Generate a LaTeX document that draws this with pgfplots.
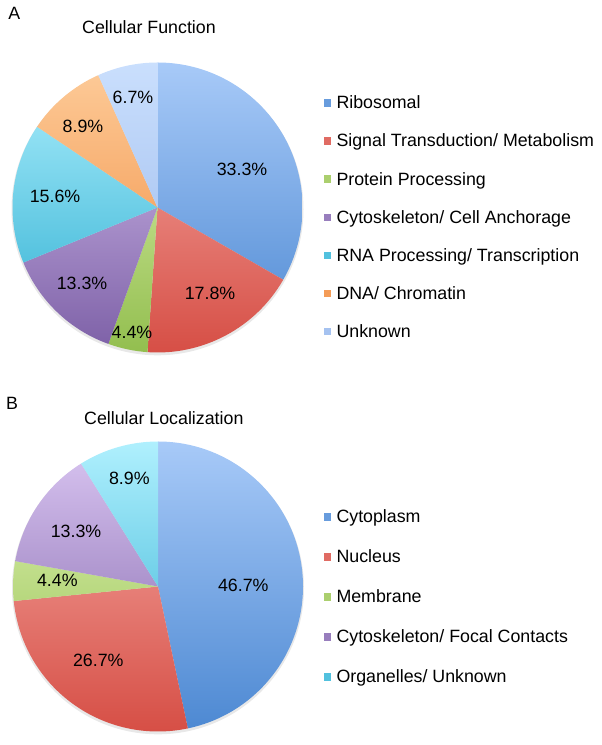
\documentclass[border=0pt]{standalone}
\usepackage{fontspec}
\setmainfont{Liberation Sans}
\usepackage{pgfplots}
\usepackage{pgfplotstable}
\pgfplotsset{compat=1.18}

\definecolor{blT}{HTML}{A8CAF8}
\definecolor{blB}{HTML}{4C88D2}
\definecolor{rdT}{HTML}{F7B0AA}
\definecolor{rdB}{HTML}{D64E45}
\definecolor{grT}{HTML}{E4F6B8}
\definecolor{grB}{HTML}{92BE4E}
\definecolor{puT}{HTML}{DAC6F2}
\definecolor{puB}{HTML}{7C5FA6}
\definecolor{cyT}{HTML}{B0F0FE}
\definecolor{cyB}{HTML}{2AADD0}
\definecolor{orT}{HTML}{FDCC9A}
\definecolor{orB}{HTML}{F0883A}
\definecolor{lbT}{HTML}{CADFFD}
\definecolor{lbB}{HTML}{96B6EA}

\newcommand\txtfont{\fontsize{17.8bp}{21bp}\selectfont}

% percentages, colours, label offsets from the pie centre, legend names and baselines
\pgfplotstableread[col sep=comma]{
pct,top,bot,lx,ly,name,gy
33.3,blT,blB,84.5,38.5,Ribosomal,636.1
17.8,rdT,rdB,52.5,-85.5,Signal Transduction/ Metabolism,598.0
4.4,grT,grB,-25.5,-124.5,Protein Processing,559.9
13.3,puT,puB,-75.5,-75.5,Cytoskeleton/ Cell Anchorage,521.8
15.6,cyT,cyB,-102.5,11.5,RNA Processing/ Transcription,483.7
8.9,orT,orB,-74.5,81.5,DNA/ Chromatin,445.6
6.7,lbT,lbB,-24.5,110.5,Unknown,407.5
}\funcdata

\pgfplotstableread[col sep=comma]{
pct,top,bot,lx,ly,name,gy
46.7,blT,blB,85.3,0.8,Cytoplasm,222.1
26.7,rdT,rdB,-59.7,-74.2,Nucleus,182.1
4.4,grT,grB,-100.7,5.8,Membrane,142.1
13.3,puT,puB,-82,55.5,Cytoskeleton/ Focal Contacts,102.1
8.9,cyT,cyB,-28.7,108.2,Organelles/ Unknown,62.1
}\locdata

\def\R{145bp}

\newcommand\drawpie[3]{%
  \fill[black!9] (axis cs:#2,#3) ++(0,-1.8bp) circle[radius=146bp];
  \pgfplotstablegetrowsof{#1}%
  \pgfmathtruncatemacro\nrows{\pgfplotsretval-1}%
  \gdef\cum{0}%
  \foreach \i in {0,...,\nrows}{%
    \pgfplotstablegetelem{\i}{pct}\of{#1}\let\p\pgfplotsretval
    \pgfplotstablegetelem{\i}{top}\of{#1}\let\ct\pgfplotsretval
    \pgfplotstablegetelem{\i}{bot}\of{#1}\let\cb\pgfplotsretval
    \pgfplotstablegetelem{\i}{lx}\of{#1}\let\lx\pgfplotsretval
    \pgfplotstablegetelem{\i}{ly}\of{#1}\let\ly\pgfplotsretval
    \pgfplotstablegetelem{\i}{name}\of{#1}\let\nm\pgfplotsretval
    \pgfplotstablegetelem{\i}{gy}\of{#1}\let\gy\pgfplotsretval
    \pgfmathsetmacro\aS{90-3.6*\cum}%
    \pgfmathsetmacro\aE{90-3.6*(\cum+\p)}%
    \pgfmathsetmacro\px{#2+\lx}%
    \pgfmathsetmacro\py{#3+\ly}%
    \begin{scope}
      \clip (axis cs:#2,#3) -- +(\aS:\R) arc[start angle=\aS, end angle=\aE, radius=\R] -- cycle;
      \shade[top color=\ct, bottom color=\cb] (axis cs:#2,#3) ++(-146bp,-146bp) rectangle +(292bp,292bp);
    \end{scope}
    \node[font=\txtfont, text=black] at (axis cs:\px,\py) {\p\%};
    \fill[\cb!70!\ct] (axis cs:323.8,\gy) ++(0,2.2bp) rectangle +(7.4bp,7.4bp);
    \node[anchor=base west, inner sep=0pt, font=\txtfont] at (axis cs:336.3,\gy) {\nm};
    \pgfmathsetmacro\tmp{\cum+\p}\xdef\cum{\tmp}%
  }%
}

\begin{document}
\begin{tikzpicture}
\useasboundingbox (0,0) rectangle (602bp,745bp);
\begin{axis}[
  at={(0,0)}, anchor=south west,
  scale only axis, width=602bp, height=745bp,
  xmin=0, xmax=602, ymin=0, ymax=745,
  hide axis, clip=false]
\pgfplotsextra{
  \node[anchor=base west, inner sep=0pt, font=\txtfont] at (axis cs:8.3,725) {A};
  \node[anchor=base west, inner sep=0pt, font=\txtfont] at (axis cs:82,711.7) {Cellular Function};
  \drawpie{\funcdata}{157.5}{537.5}
  \node[anchor=base west, inner sep=0pt, font=\txtfont] at (axis cs:6,335) {B};
  \node[anchor=base west, inner sep=0pt, font=\txtfont] at (axis cs:84,320) {Cellular Localization};
  \drawpie{\locdata}{158}{158.5}
}
\end{axis}
\end{tikzpicture}
\end{document}
